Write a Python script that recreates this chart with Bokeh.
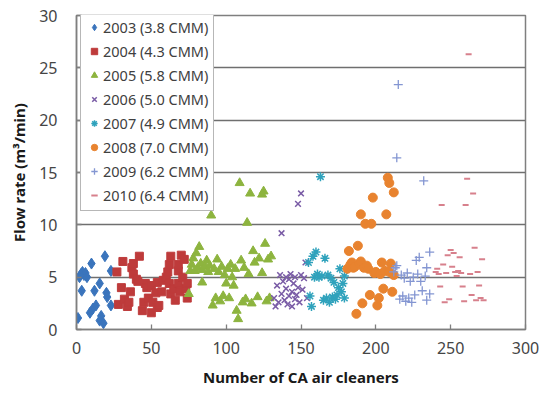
import numpy as np
from bokeh.plotting import figure
from bokeh.models import Range1d, FixedTicker, Legend
from bokeh.embed import file_html
from bokeh.resources import INLINE

# ---- data ----
labels = ["2003 (3.8 CMM)", "2004 (4.3 CMM)", "2005 (5.8 CMM)", "2006 (5.0 CMM)",
          "2007 (4.9 CMM)", "2008 (7.0 CMM)", "2009 (6.2 CMM)", "2010 (6.4 CMM)"]

x2003 = [1, 2, 3, 4, 5, 6, 7, 3.5, 10, 12, 11, 13, 9, 15.5, 16.5, 15.5, 18, 19, 20, 20.5, 23, 23]
y2003 = [1.1, 5.0, 5.3, 5.5, 5.2, 5.4, 5.0, 3.7, 6.3, 3.7, 2.0, 2.3, 1.6, 4.4, 1.3, 0.85, 0.6, 7.0, 3.5, 3.1, 2.3, 5.6]

x2004 = [27, 28, 30, 31, 32, 34, 35, 36, 37, 38, 38, 40, 41, 42, 44, 45, 46, 47, 48, 50, 50, 51, 53,
         54, 54, 55, 57, 58, 60, 61, 62, 62, 63, 63, 65, 66, 68, 68, 68, 69, 70, 71, 72, 73, 74, 74]
y2004 = [5.5, 2.4, 4.0, 6.5, 2.9, 2.2, 2.6, 3.6, 5.9, 5.3, 6.3, 4.8, 4.6, 7.0, 1.8, 2.6, 4.4, 4.0, 3.0, 4.2, 1.6, 2.6, 3.5,
         4.5, 2.1, 2.3, 3.6, 4.7, 5.0, 5.5, 6.2, 4.4, 3.4, 7.0, 3.9, 2.8, 5.6, 6.2, 4.4, 3.6, 7.1, 5.0, 6.7, 3.9, 4.4, 3.0]

x2005 = [75, 76, 77, 78, 79, 80, 81, 82, 83, 84, 84, 86, 87, 88, 89, 90, 91, 92, 93, 94, 95, 96, 97, 98, 99,
         100, 101, 102, 103, 104, 105, 106, 107, 108, 109, 110, 111, 112, 113, 114, 115, 116, 117, 118, 119,
         121, 122, 124, 124, 125, 126, 127, 128, 129, 130]
y2005 = [3.4, 5.6, 6.2, 6.8, 5.6, 7.3, 5.9, 7.9, 6.3, 5.7, 4.5, 6.0, 6.6, 5.5, 6.1, 10.9, 2.3, 5.8, 3.0, 6.7, 5.5, 2.7, 6.0, 3.2, 5.2,
         4.4, 5.8, 3.0, 6.2, 5.0, 4.2, 5.8, 1.8, 1.0, 14.0, 6.6, 2.6, 5.9, 2.9, 10.2, 5.3, 13.0, 2.5, 7.5, 6.4,
         3.1, 6.8, 5.4, 12.9, 13.2, 8.2, 2.7, 6.7, 3.0, 7.0]

x2006 = [132, 133, 134, 135, 136, 137, 137, 138, 139, 140, 140, 141, 142, 142, 143, 144, 144, 145, 146, 146,
         147, 148, 148, 149, 150, 150, 151, 152, 153, 154]
y2006 = [3.0, 2.2, 4.2, 2.6, 5.2, 9.2, 3.4, 4.6, 2.8, 5.0, 3.9, 2.4, 4.8, 3.2, 5.3, 3.6, 2.2, 4.4, 2.9, 5.0,
         3.3, 12.0, 4.0, 2.6, 13.0, 5.2, 3.8, 4.9, 6.4, 3.0]

x2007 = [155, 156, 157, 158, 159, 160, 161, 162, 163, 164, 165, 166, 167, 168, 169, 170, 171, 172, 173,
         174, 175, 176, 177, 178, 179, 179]
y2007 = [6.4, 3.2, 2.2, 7.0, 5.0, 7.4, 5.3, 5.0, 14.6, 5.1, 2.8, 6.8, 3.0, 5.2, 2.6, 4.9, 3.1, 4.5, 2.9,
         3.3, 4.0, 5.8, 3.6, 4.4, 5.1, 3.0]

x2008 = [181, 182, 183, 184, 185, 186, 187, 188, 189, 190, 190, 191, 192, 193, 194, 195, 196, 197, 198,
         199, 200, 201, 202, 203, 204, 205, 206, 207, 208, 209, 209, 210, 211, 212, 212]
y2008 = [5.8, 7.5, 6.2, 6.4, 5.9, 6.0, 1.5, 8.0, 6.3, 11.0, 6.5, 2.5, 5.9, 10.1, 6.1, 5.8, 3.3, 10.1, 12.6,
         5.4, 5.5, 2.3, 3.0, 5.3, 6.4, 3.9, 5.6, 11.0, 14.5, 14.0, 5.5, 6.3, 3.6, 13.1, 5.2]

x2009 = [212, 213, 214, 214, 215, 216, 217, 218, 219, 220, 221, 222, 223, 224, 225, 226, 227, 228, 229,
         230, 231, 232, 233, 234, 234, 236, 236]
y2009 = [5.5, 5.9, 16.4, 6.1, 23.4, 2.9, 5.2, 3.2, 4.9, 2.7, 5.4, 3.0, 4.6, 2.6, 5.0, 3.3, 6.6, 5.3, 6.9,
         4.6, 3.7, 14.2, 5.1, 5.9, 2.8, 7.4, 3.4]

x2010 = [240, 241, 242, 243, 244, 245, 246, 247, 248, 249, 250, 251, 252, 253, 254, 255, 256, 257, 258,
         259, 260, 261, 262, 263, 264, 265, 266, 267, 268, 269, 270, 271, 272]
y2010 = [5.5, 5.8, 5.3, 4.1, 11.9, 6.2, 2.6, 5.4, 7.1, 2.9, 7.6, 6.0, 7.3, 5.5, 5.1, 5.6, 6.9, 5.4, 4.1,
         2.7, 11.9, 14.4, 26.3, 5.3, 3.3, 13.0, 7.8, 2.8, 5.5, 4.2, 3.0, 6.7, 2.8]

x_ticks = [0, 50, 100, 150, 200, 250, 300]
y_ticks = [0, 5, 10, 15, 20, 25, 30]

FONT = "Noto Sans"

p = figure(width=550, height=399, output_backend="svg", toolbar_location=None,
           x_range=Range1d(0, 300), y_range=Range1d(0, 30),
           min_border_left=76, min_border_right=25, min_border_top=15, min_border_bottom=70)
p.background_fill_color = "white"
p.border_fill_color = "white"
p.outline_line_color = "#7f7f7f"
p.outline_line_width = 1.5

# grid
p.xgrid.grid_line_color = None
p.ygrid.ticker = FixedTicker(ticks=y_ticks)
p.ygrid.grid_line_color = "#6f6f6f"
p.ygrid.grid_line_width = 1.3

# axes
p.xaxis.ticker = FixedTicker(ticks=x_ticks)
p.yaxis.ticker = FixedTicker(ticks=y_ticks)
for ax in (p.xaxis[0], p.yaxis[0]):
    ax.axis_line_color = "#7f7f7f"
    ax.axis_line_width = 1.5
    ax.major_tick_line_color = "#7f7f7f"
    ax.major_tick_line_width = 1.3
    ax.major_tick_in = 5
    ax.major_tick_out = 0
    ax.minor_tick_line_color = None
    ax.major_label_text_font = FONT
    ax.major_label_text_font_size = "16px"
    ax.major_label_text_color = "#454545"
    ax.axis_label_text_font = FONT
    ax.axis_label_text_font_size = "15px"
    ax.axis_label_text_font_style = "bold"
    ax.axis_label_text_color = "#1a1a1a"

p.xaxis.axis_label = "Number of CA air cleaners"
p.yaxis.axis_label = "Flow rate (m\u00b3/min)"
p.xaxis.major_label_standoff = 12
p.xaxis.axis_label_standoff = 10
p.yaxis.major_label_standoff = 19
p.yaxis.axis_label_standoff = 7

# series
items = []
r = p.scatter(x2003, y2003, marker="diamond", size=11,
              fill_color="#3A74BC", line_color="#3A74BC")
items.append((labels[0], [r]))
r = p.scatter(x2004, y2004, marker="square", size=8,
              fill_color="#BE3B3B", line_color="#BE3B3B")
items.append((labels[1], [r]))
r = p.scatter(x2005, y2005, marker="triangle", size=9,
              fill_color="#8DB43F", line_color="#8DB43F")
items.append((labels[2], [r]))
r = p.scatter(x2006, y2006, marker="x", size=8, line_color="#7A5CA6", line_width=1.5)
items.append((labels[3], [r]))
r = p.scatter(x2007, y2007, marker="asterisk", size=9, line_color="#2FA2BC", line_width=1.5)
items.append((labels[4], [r]))
r = p.scatter(x2008, y2008, marker="circle", size=9,
              fill_color="#E8832F", line_color="#E8832F")
items.append((labels[5], [r]))
r = p.scatter(x2009, y2009, marker="cross", size=9, line_color="#8496D2", line_width=1.3)
items.append((labels[6], [r]))
r = p.scatter(x2010, y2010, marker="dash", size=6, line_color="#D7808C", line_width=2)
items.append((labels[7], [r]))

legend = Legend(items=items, location=(4, 118))
legend.border_line_color = "#6f6f6f"
legend.border_line_width = 1.3
legend.background_fill_color = "white"
legend.background_fill_alpha = 1
legend.label_text_font = FONT
legend.label_text_font_size = "14.5px"
legend.label_text_color = "#404040"
legend.glyph_width = 16
legend.glyph_height = 20
legend.label_height = 20
legend.label_standoff = 1
legend.spacing = 4
legend.padding = 5
legend.margin = 0
p.add_layout(legend, "center")

open("out.html", "w").write(file_html(p, INLINE))
